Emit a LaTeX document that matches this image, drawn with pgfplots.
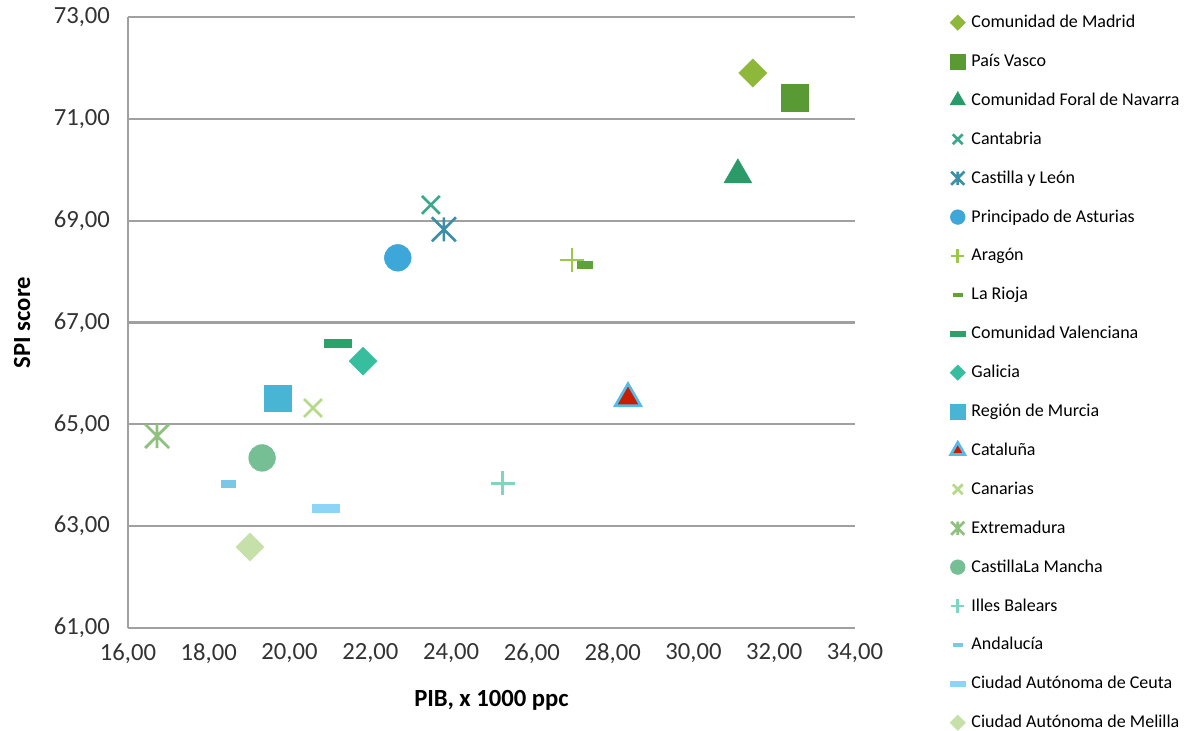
\documentclass[border=0pt]{standalone}
\usepackage{fontspec}
\setmainfont{Carlito}
\usepackage{pgfplots}
\pgfplotsset{compat=1.18}
\definecolor{gridgray}{HTML}{A0A0A0}
\definecolor{cMad}{HTML}{8DB83A}
\definecolor{cVas}{HTML}{5A9A35}
\definecolor{cNav}{HTML}{2A9B68}
\definecolor{cCan}{HTML}{3AA88A}
\definecolor{cCyL}{HTML}{3B8FA8}
\definecolor{cAst}{HTML}{3CA7D8}
\definecolor{cAra}{HTML}{9CC84A}
\definecolor{cRio}{HTML}{5FA238}
\definecolor{cVal}{HTML}{2BA26A}
\definecolor{cGal}{HTML}{36BE9E}
\definecolor{cMur}{HTML}{48B5D5}
\definecolor{cCatF}{HTML}{C81E00}
\definecolor{cCatD}{HTML}{55BAE8}
\definecolor{cCnr}{HTML}{B6DB88}
\definecolor{cExt}{HTML}{8EC07E}
\definecolor{cCLM}{HTML}{76BE94}
\definecolor{cBal}{HTML}{7ED6BE}
\definecolor{cAnd}{HTML}{7BC7E6}
\definecolor{cCeu}{HTML}{8DD5F7}
\definecolor{cMel}{HTML}{C6E0AA}
\pgfdeclareplotmark{xbar}{%
  \pgfpathmoveto{\pgfqpoint{-\pgfplotmarksize}{-\pgfplotmarksize}}%
  \pgfpathlineto{\pgfqpoint{\pgfplotmarksize}{\pgfplotmarksize}}%
  \pgfpathmoveto{\pgfqpoint{-\pgfplotmarksize}{\pgfplotmarksize}}%
  \pgfpathlineto{\pgfqpoint{\pgfplotmarksize}{-\pgfplotmarksize}}%
  \pgfpathmoveto{\pgfqpoint{0pt}{-\pgfplotmarksize}}%
  \pgfpathlineto{\pgfqpoint{0pt}{\pgfplotmarksize}}%
  \pgfusepathqstroke}
\begin{document}
\begin{tikzpicture}
\begin{axis}[name=ax, scale only axis, width=545.25pt, height=458.25pt,
  xmin=16, xmax=34, ymin=61, ymax=73,
  xtick={16,18,20,22,24,26,28,30,32,34},
  ytick={61,63,65,67,69,71,73},
  axis lines*=left,
  axis line style={draw=gridgray, line width=1.6pt},
  ymajorgrids, major grid style={draw=gridgray, line width=1.6pt},
  tick style={draw=none},
  /pgf/number format/.cd, fixed, fixed zerofill, precision=2, use comma, 1000 sep={}, assume math mode=true,
  /pgfplots/.cd,
  tick label style={font=\fontsize{18.5}{20}\selectfont, text=black!80},
  yticklabel style={xshift=-10pt},
  xticklabel style={yshift=-8pt},
  xlabel={PIB, x 1000 ppc},
  ylabel={SPI score},
  label style={font=\fontsize{18.5}{20}\selectfont\bfseries},
  xlabel style={at={(rel axis cs:0.5,-0.1178)}, anchor=center},
  ylabel style={at={(rel axis cs:-0.1458,0.5)}, anchor=center, rotate=0},
  legend style={at={(rel axis cs:1.1308,1.0066)}, anchor=north west, draw=none, fill=none,
    font=\fontsize{13.5}{15}\selectfont, inner sep=0pt, outer sep=0pt,
    row sep=14.67pt, column sep=0pt,
    nodes={inner sep=1pt, text height=10pt, text depth=2.5pt},
    /tikz/every odd column/.style={column sep=3.5pt}},
  legend cell align=left,
  legend image code/.code={\draw[#1, every mark/.append style={scale=0.55}] plot coordinates {(0.1cm,0cm)};},
]
\addplot[only marks, mark=square*, mark size=7.4pt, mark options={rotate=45, fill=cMad, draw=cMad}] coordinates {(31.47,71.90)};
\addlegendentry{Comunidad de Madrid}
\addplot[only marks, mark=square*, mark size=10pt, mark options={fill=cVas, draw=cVas}] coordinates {(32.51,71.41)};
\addlegendentry{País Vasco}
\addplot[only marks, mark=triangle*, mark size=12pt, mark options={fill=cNav, draw=cNav}] coordinates {(31.10,69.90)};
\addlegendentry{Comunidad Foral de Navarra}
\addplot[only marks, mark=x, mark size=9.5pt, mark options={draw=cCan, line width=2pt}] coordinates {(23.50,69.31)};
\addlegendentry{Cantabria}
\addplot[only marks, mark=xbar, mark size=9pt, mark options={draw=cCyL, line width=2pt}] coordinates {(23.82,68.83)};
\addlegendentry{Castilla y León}
\addplot[only marks, mark=*, mark size=10pt, mark options={fill=cAst, draw=cAst}] coordinates {(22.68,68.27)};
\addlegendentry{Principado de Asturias}
\addplot[only marks, mark=+, mark size=9pt, mark options={draw=cAra, line width=2pt}] coordinates {(26.99,68.23)};
\addlegendentry{Aragón}
\addplot[only marks, mark=square*, mark size=5.5pt, mark options={yscale=0.45, fill=cRio, draw=cRio}] coordinates {(27.31,68.13)};
\addlegendentry{La Rioja}
\addplot[only marks, mark=square*, mark size=10pt, mark options={yscale=0.3, fill=cVal, draw=cVal}] coordinates {(21.20,66.60)};
\addlegendentry{Comunidad Valenciana}
\addplot[only marks, mark=square*, mark size=7.4pt, mark options={rotate=45, fill=cGal, draw=cGal}] coordinates {(21.82,66.24)};
\addlegendentry{Galicia}
\addplot[only marks, mark=square*, mark size=10pt, mark options={fill=cMur, draw=cMur}] coordinates {(19.71,65.51)};
\addlegendentry{Región de Murcia}
\addplot[only marks, mark=triangle*, mark size=11pt, mark options={fill=cCatF, draw=cCatD, line width=2pt}] coordinates {(28.38,65.51)};
\addlegendentry{Cataluña}
\addplot[only marks, mark=x, mark size=9.5pt, mark options={draw=cCnr, line width=2pt}] coordinates {(20.58,65.32)};
\addlegendentry{Canarias}
\addplot[only marks, mark=xbar, mark size=9pt, mark options={draw=cExt, line width=2pt}] coordinates {(16.72,64.77)};
\addlegendentry{Extremadura}
\addplot[only marks, mark=*, mark size=10pt, mark options={fill=cCLM, draw=cCLM}] coordinates {(19.32,64.34)};
\addlegendentry{CastillaLa Mancha}
\addplot[only marks, mark=+, mark size=9pt, mark options={draw=cBal, line width=2pt}] coordinates {(25.28,63.84)};
\addlegendentry{Illes Balears}
\addplot[only marks, mark=square*, mark size=5.5pt, mark options={yscale=0.45, fill=cAnd, draw=cAnd}] coordinates {(18.48,63.83)};
\addlegendentry{Andalucía}
\addplot[only marks, mark=square*, mark size=10pt, mark options={yscale=0.3, fill=cCeu, draw=cCeu}] coordinates {(20.90,63.35)};
\addlegendentry{Ciudad Autónoma de Ceuta}
\addplot[only marks, mark=square*, mark size=7.4pt, mark options={rotate=45, fill=cMel, draw=cMel}] coordinates {(19.02,62.59)};
\addlegendentry{Ciudad Autónoma de Melilla}
\end{axis}
\pgfresetboundingbox
\path ([shift={(-96pt,-77.25pt)}]ax.south west) rectangle ([shift={(250.5pt,12.75pt)}]ax.north east);
\end{tikzpicture}
\end{document}
